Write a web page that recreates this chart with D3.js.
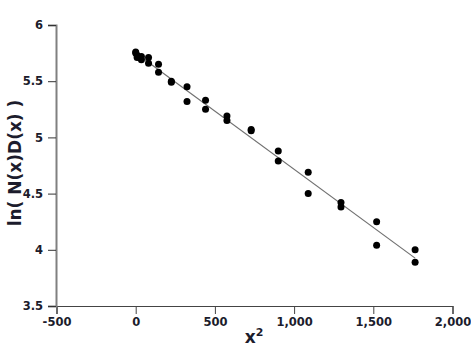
<!DOCTYPE html>
<html>
<head>
<meta charset="utf-8">
<script src="https://cdn.jsdelivr.net/npm/d3@7"></script>
<style>
  body { margin: 0; background: #fff; }
  svg text { font-family: "DejaVu Sans", Verdana, sans-serif; font-weight: bold; fill: #1c1c2c; }
</style>
</head>
<body>
<div id="chart"></div>
<script>
const w = 471;
const h = 357;

// x^2 values, two measurements each
const xValues = [0, 0, 9, 9, 36, 36, 81, 81, 144, 144, 225, 225, 324, 324, 441, 441,
                 576, 576, 729, 729, 900, 900, 1089, 1089, 1296, 1296, 1521, 1521, 1764, 1764];
const yValues = [5.76, 5.75, 5.73, 5.71, 5.72, 5.69, 5.71, 5.66, 5.65, 5.58, 5.50, 5.49,
                 5.45, 5.32, 5.33, 5.25, 5.19, 5.15, 5.07, 5.06, 4.88, 4.79, 4.69, 4.50,
                 4.42, 4.38, 4.25, 4.04, 4.00, 3.89];
const xTicks = [-500, 0, 500, 1000, 1500, 2000];
const yTicks = [3.5, 4, 4.5, 5, 5.5, 6];

let xScale = d3.scaleLinear().domain([-500, 2000]).range([56.5, 452.5]);
let yScale = d3.scaleLinear().domain([3.5, 6]).range([306, 25]);

let svg = d3.select("#chart").append("svg")
    .attr("width", w)
    .attr("height", h);

// least squares fit
let n = xValues.length;
let mx = d3.mean(xValues), my = d3.mean(yValues);
let sxy = 0, sxx = 0;
for (let i = 0; i < n; i++) {
    sxy += (xValues[i] - mx) * (yValues[i] - my);
    sxx += (xValues[i] - mx) * (xValues[i] - mx);
}
let slope = sxy / sxx;
let intercept = my - slope * mx;
let fitX = [d3.min(xValues), d3.max(xValues)];

// plain hyphen for negatives, like the original
let fmt = (d) => d3.format(",")(d).replace("\u2212", "-");

let xAxis = svg.append("g")
    .attr("transform", "translate(0,306)")
    .call(d3.axisBottom(xScale).tickValues(xTicks).tickSize(8).tickPadding(4)
        .tickFormat(fmt));
xAxis.select(".domain").attr("stroke", "#444").attr("stroke-width", 1.2);
xAxis.selectAll(".tick line").attr("stroke", "#444");
xAxis.selectAll("text").style("font-size", "11.5px");

let yAxis = svg.append("g")
    .attr("transform", "translate(56,0)")
    .call(d3.axisLeft(yScale).tickValues(yTicks).tickSize(8).tickPadding(5)
        .tickFormat(fmt));
yAxis.select(".domain").attr("stroke", "#808080").attr("stroke-width", 2);
yAxis.selectAll(".tick line").attr("stroke", "#333");
yAxis.selectAll("text").style("font-size", "11.5px");

svg.append("line")
    .attr("x1", xScale(fitX[0]))
    .attr("y1", yScale(intercept + slope * fitX[0]))
    .attr("x2", xScale(fitX[1]))
    .attr("y2", yScale(intercept + slope * fitX[1]))
    .attr("stroke", "#707070")
    .attr("stroke-width", 1.2);

svg.append("g")
    .selectAll("circle")
    .data(d3.range(n))
    .enter()
    .append("circle")
    .attr("cx", (i) => xScale(xValues[i]))
    .attr("cy", (i) => yScale(yValues[i]))
    .attr("r", 3.5)
    .attr("fill", "#000");

let xLabel = svg.append("text")
    .attr("x", 254)
    .attr("y", 343)
    .attr("text-anchor", "middle")
    .style("font-size", "17px");
xLabel.append("tspan").text("x");
xLabel.append("tspan").attr("dy", -7).style("font-size", "11px").text("2");

svg.append("text")
    .attr("transform", "translate(21,163) rotate(-90)")
    .attr("text-anchor", "middle")
    .style("font-size", "17px")
    .text("ln( N(x)D(x) )");
</script>
</body>
</html>
